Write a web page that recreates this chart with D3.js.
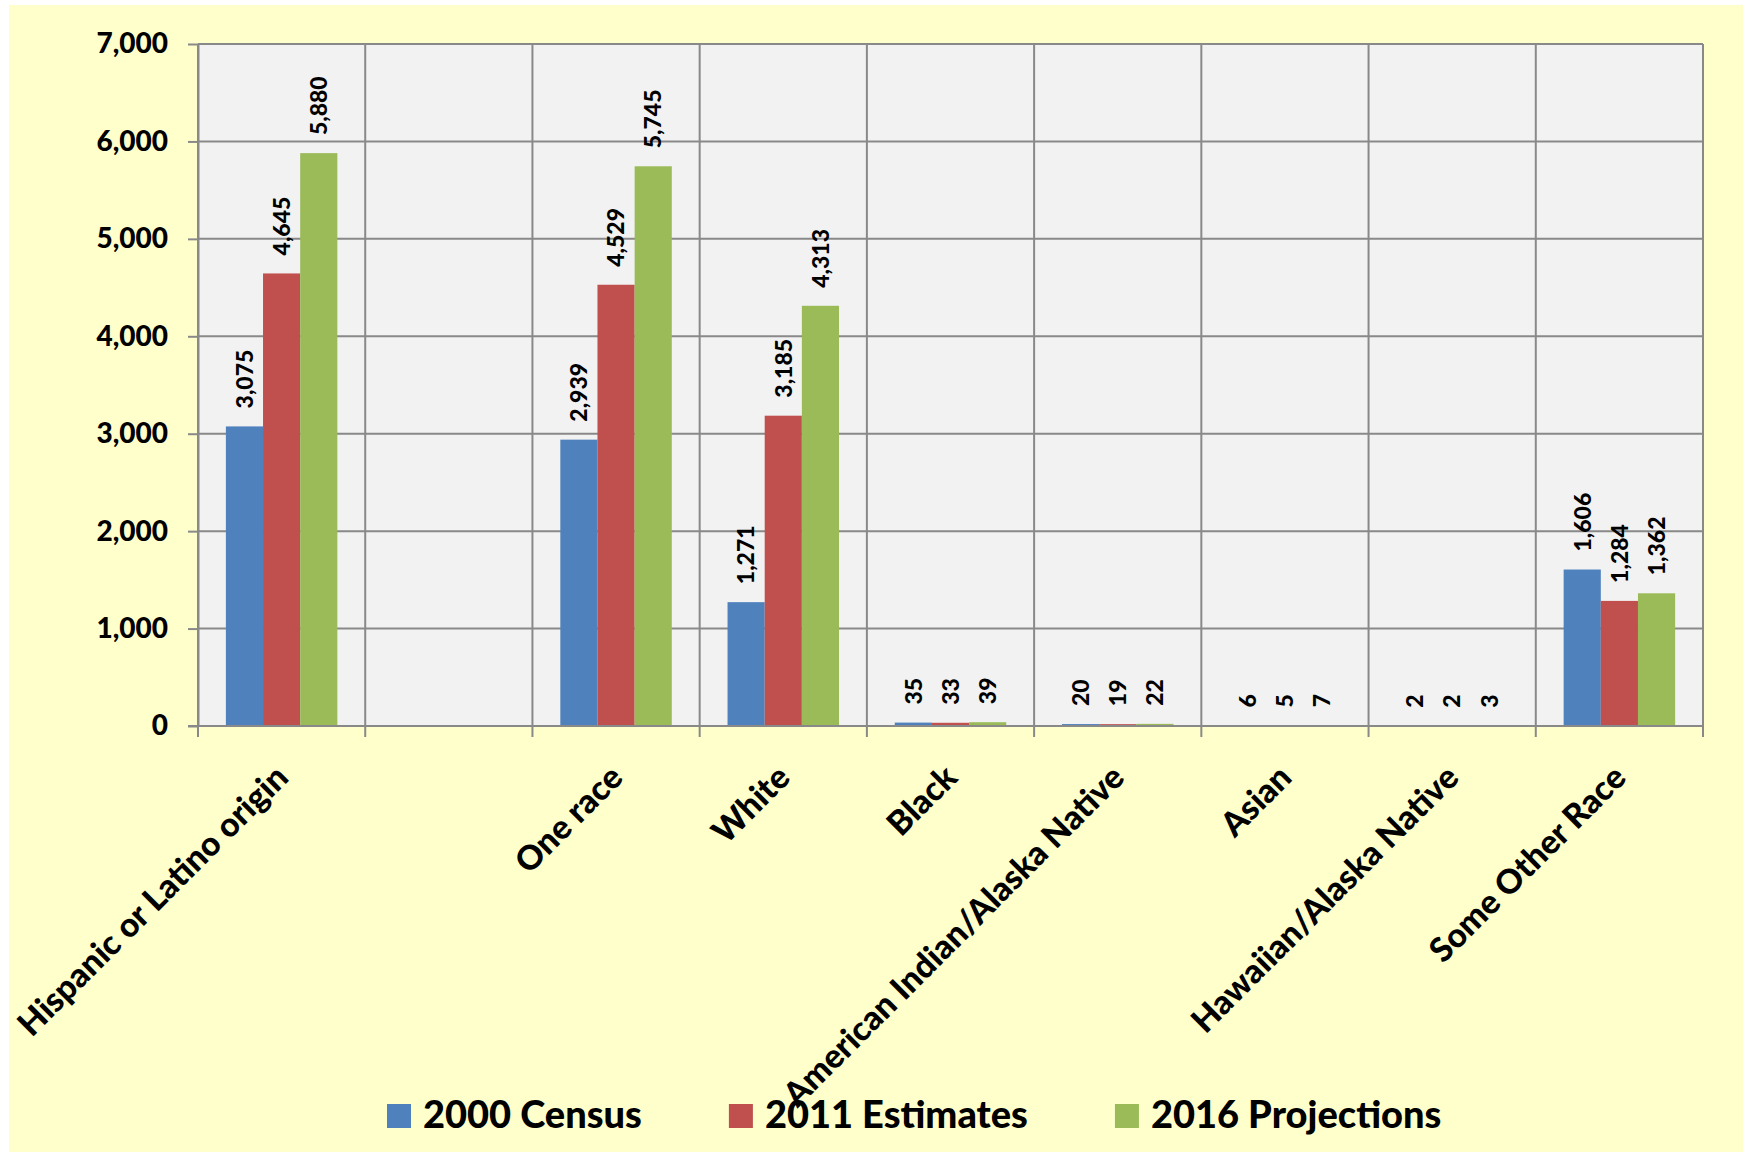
<!DOCTYPE html>
<html>
<head>
<meta charset="utf-8">
<script src="https://cdn.jsdelivr.net/npm/d3@7/dist/d3.min.js"></script>
<style>
    body { margin: 0; background: #ffffff; }
    text { font-family: Lato, "Open Sans", sans-serif; font-weight: 900; fill: #000; }
</style>
</head>
<body>
<svg id="chart" width="1743" height="1152"></svg>
<script>
// chart values
var categories = ['Hispanic or Latino origin', '', 'One race', 'White', 'Black',
    'American Indian/Alaska Native', 'Asian', 'Hawaiian/Alaska Native', 'Some Other Race'];
var census2000 = [3075, null, 2939, 1271, 35, 20, 6, 2, 1606];
var estimates2011 = [4645, null, 4529, 3185, 33, 19, 5, 2, 1284];
var projections2016 = [5880, null, 5745, 4313, 39, 22, 7, 3, 1362];
var seriesNames = ['2000 Census', '2011 Estimates', '2016 Projections'];
var seriesColors = ['#4f81bd', '#c0504d', '#9bbb59'];
var yTicks = [0, 1000, 2000, 3000, 4000, 5000, 6000, 7000];

window.onload = function () {

    var series = [census2000, estimates2011, projections2016];
    var svg = d3.select('#chart');

    // page background
    svg.append('rect')
        .attr('x', 9).attr('y', 5)
        .attr('width', 1734).attr('height', 1147)
        .attr('fill', '#ffffcc');

    var plot = { left: 198, right: 1703, top: 44, bottom: 726 };

    var x = d3.scaleBand()
        .domain(d3.range(categories.length))
        .range([plot.left, plot.right]);
    var xInner = d3.scaleBand()
        .domain(d3.range(series.length))
        .range([0, x.bandwidth()])
        .paddingOuter(0.75);
    var y = d3.scaleLinear()
        .domain([0, 7000])
        .range([plot.bottom, plot.top]);

    svg.append('rect')
        .attr('x', plot.left).attr('y', plot.top)
        .attr('width', plot.right - plot.left).attr('height', plot.bottom - plot.top)
        .attr('fill', '#f2f2f2');

    var gridColor = '#898989';

    // horizontal grid
    svg.append('g').selectAll('line')
        .data(yTicks.slice(1))
        .enter().append('line')
        .attr('x1', plot.left).attr('x2', plot.right)
        .attr('y1', (d) => y(d)).attr('y2', (d) => y(d))
        .attr('stroke', gridColor).attr('stroke-width', 2);

    // vertical grid at category edges
    var edges = d3.range(categories.length + 1).map((i) => plot.left + i * x.step());
    svg.append('g').selectAll('line')
        .data(edges)
        .enter().append('line')
        .attr('x1', (d) => d).attr('x2', (d) => d)
        .attr('y1', plot.top).attr('y2', plot.bottom + 11)
        .attr('stroke', gridColor).attr('stroke-width', 2);

    // bars
    series.forEach(function (values, s) {
        var pts = values.map((v, i) => ({ i: i, v: v })).filter((d) => d.v !== null);

        svg.append('g')
            .selectAll('rect')
            .data(pts)
            .enter().append('rect')
            .attr('x', (d) => x(d.i) + xInner(s))
            .attr('y', (d) => y(d.v))
            .attr('width', xInner.bandwidth())
            .attr('height', (d) => y(0) - y(d.v))
            .attr('fill', seriesColors[s]);

        svg.append('g')
            .selectAll('text')
            .data(pts)
            .enter().append('text')
            .attr('transform', (d) => 'translate(' + (x(d.i) + xInner(s) + xInner.bandwidth() / 2) + ',' + (y(d.v) - 18) + ') rotate(-90)')
            .attr('dy', '0.36em')
            .attr('font-size', 23)
            .text((d) => d3.format(',')(d.v));
    });

    // y axis
    var yAxis = svg.append('g')
        .attr('transform', 'translate(' + plot.left + ',0)')
        .call(d3.axisLeft(y).tickValues(yTicks).tickSizeInner(10).tickSizeOuter(0).tickPadding(20).tickFormat(d3.format(',')));
    yAxis.select('.domain').attr('stroke', gridColor).attr('stroke-width', 2);
    yAxis.selectAll('.tick line').attr('stroke', gridColor).attr('stroke-width', 2);
    yAxis.selectAll('.tick text').attr('font-size', 28).attr('font-family', null).attr('fill', '#000');

    // x axis line
    svg.append('line')
        .attr('x1', plot.left - 10).attr('x2', plot.right)
        .attr('y1', y(0)).attr('y2', y(0))
        .attr('stroke', gridColor).attr('stroke-width', 2);

    // category labels
    svg.append('g').selectAll('text')
        .data(categories)
        .enter().append('text')
        .attr('transform', (d, i) => 'translate(' + (x(i) + x.bandwidth() / 2 - 8) + ',' + (y(0) + 37) + ') rotate(-45)')
        .attr('text-anchor', 'end')
        .attr('dy', '0.7em')
        .attr('font-size', 33.5)
        .text((d) => d);

    // legend
    var legendX = 387;
    seriesNames.forEach(function (name, s) {
        svg.append('rect')
            .attr('x', legendX).attr('y', 1104)
            .attr('width', 24).attr('height', 24)
            .attr('fill', seriesColors[s]);
        var t = svg.append('text')
            .attr('x', legendX + 36).attr('y', 1128)
            .attr('font-size', 38)
            .text(name);
        legendX += 36 + t.node().getComputedTextLength() + 87;
    });
};
</script>
</body>
</html>
